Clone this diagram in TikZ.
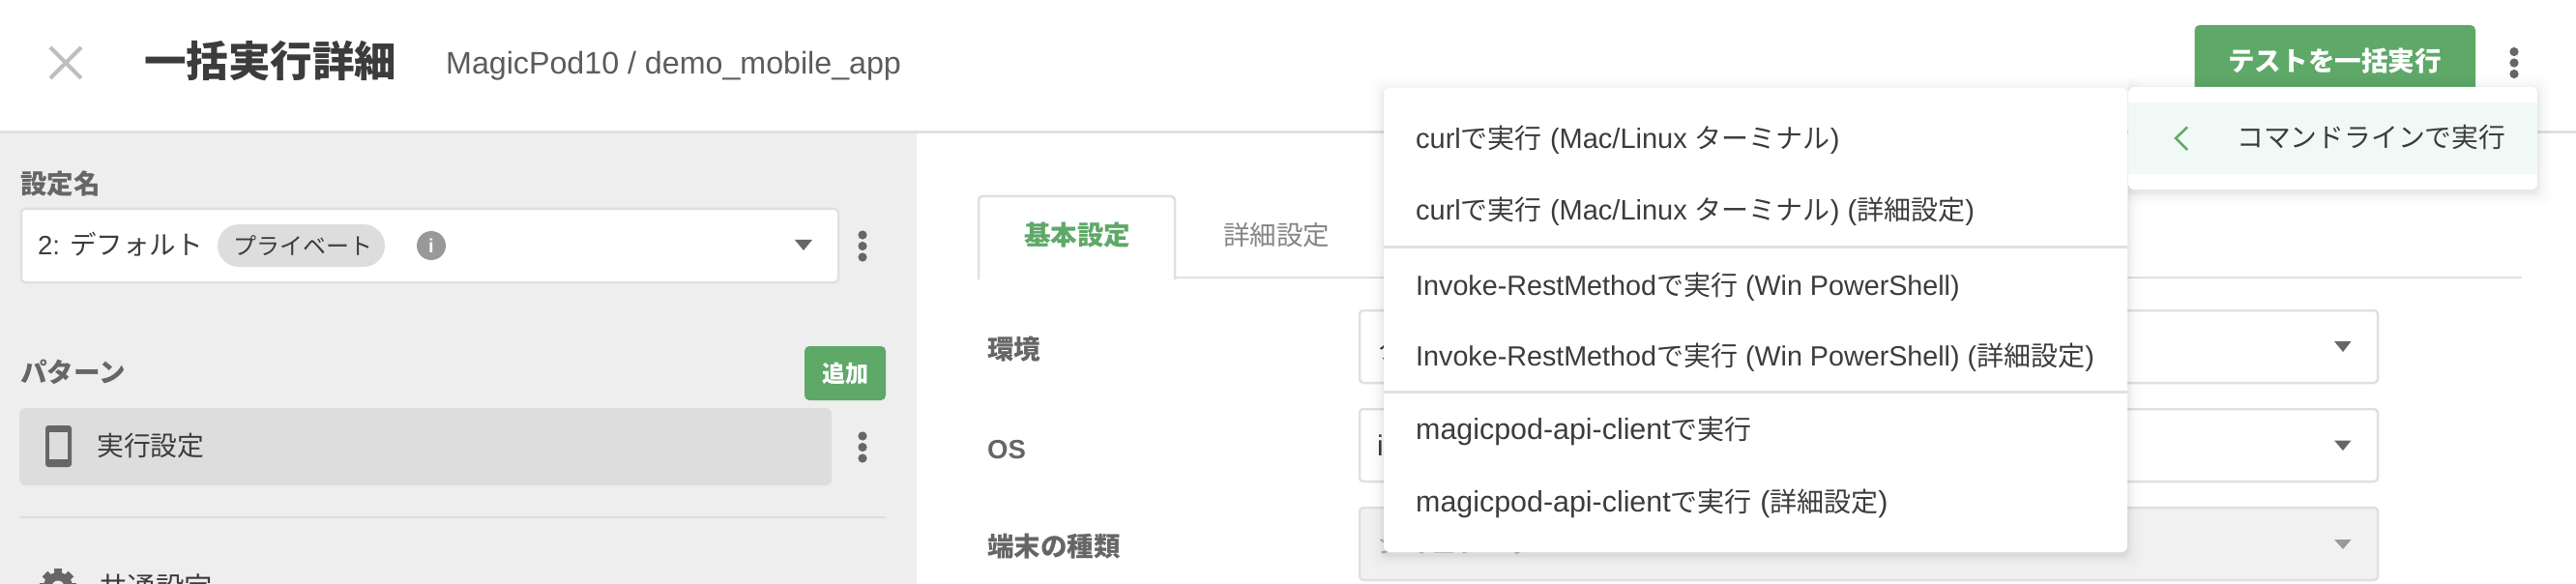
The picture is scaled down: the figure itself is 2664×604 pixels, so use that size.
\documentclass[tikz,border=0pt]{standalone}
\usepackage{fontspec}
\setmainfont{Liberation Sans}
\newfontfamily\jp{Noto Sans CJK JP}
\newcommand{\mj}[1]{{\jp\fontsize{28}{28}\selectfont #1}}
\usetikzlibrary{calc}
\definecolor{ink}{HTML}{3C3C3C}
\definecolor{mid}{HTML}{666666}
\definecolor{rule}{HTML}{E0E0E0}
\definecolor{panel}{HTML}{EEEEEE}
\definecolor{grn}{HTML}{5EA868}
\definecolor{pale}{HTML}{F0F9F5}
\definecolor{pill}{HTML}{DDDDDD}
\definecolor{dis}{HTML}{F1F1F1}
\tikzset{
 lbl/.style={anchor=base west,inner sep=0pt,text=ink,font=\fontsize{#1}{#1}\selectfont},
 lbl/.default=27.5,
 hd/.style={anchor=base west,inner sep=0pt,text=mid,font=\fontsize{27.5}{27.5}\selectfont\jp\bfseries},
 box/.style={draw=rule,line width=2.5pt,fill=white,rounded corners=4pt},
 tri/.style={fill=mid,draw=none},
 dot/.style={fill=mid,draw=none},
 sep/.style={draw=rule,line width=2.5pt},
}
\newcommand{\kebab}[3]{% x, y centre, name
 \fill[dot] (#1,#2-11.5) circle (4.6);
 \fill[dot] (#1,#2) circle (4.6);
 \fill[dot] (#1,#2+11.5) circle (4.6);
}
\newcommand{\softshadow}[4]{% x0 y0 x1 y1
 \foreach \d/\o in {14/.006,11/.009,8/.012,5/.016,3/.02,1.5/.025}{
  \fill[black,opacity=\o,rounded corners=8pt] (#1-\d,#2-\d+3) rectangle (#3+\d,#4+\d+3);
 }
}
\begin{document}
\begin{tikzpicture}[x=1pt,y=-1pt]
\useasboundingbox (0,0) rectangle (2664,604);
\clip (0,0) rectangle (2664,604);
\fill[white] (0,0) rectangle (2664,604);
% left panel + header rule
\fill[panel] (0,137) rectangle (948,604);
\draw[sep] (0,136.5) -- (2664,136.5);
% header
\draw[color=rule!85!black,line width=4pt] (52,49) -- (84,81) (84,49) -- (52,81);
\node[anchor=base west,inner sep=0pt,text=ink,font=\fontsize{43.5}{43.5}\selectfont\jp\bfseries] (title) at (149,80) {一括実行詳細};
\node[anchor=base west,inner sep=0pt,text=mid!90!black,font=\fontsize{32.2}{32.2}\selectfont] (path) at (461,77) {MagicPod10 / demo\_mobile\_app};
\fill[grn,rounded corners=5pt] (2269.5,26) rectangle (2560,100);
\node[anchor=base west,inner sep=0pt,text=white,font=\fontsize{27.6}{27.6}\selectfont\jp\bfseries] (run) at (2304,74) {テストを一括実行};
\kebab{2600}{65}{k0}
% settings name
\node[hd] (n1) at (21,201) {設定名};
\draw[box] (22,216) rectangle (867,292);
\node[lbl] (v1) at (39,263) {\fontsize{27.5}{27.5}\selectfont 2: \jp デフォルト};
\fill[pill,rounded corners=22pt] (225,232) rectangle (398,276);
\node[lbl=24,text=ink] (p1) at (241,263) {\jp プライベート};
\fill[black!40] (446,254) circle (15);
\node[anchor=center,inner sep=0pt,text=white,font=\fontsize{20}{20}\selectfont\bfseries] (i1) at (446,254) {i};
\fill[tri] (822,248) -- (840,248) -- (831,259) -- cycle;
\kebab{892}{254.5}{k1}
% pattern
\node[hd] (n2) at (21,395) {\jp パターン};
\fill[grn,rounded corners=5pt] (832,358) rectangle (916,414);
\node[anchor=base,inner sep=0pt,text=white,font=\fontsize{24}{24}\selectfont\jp\bfseries] (add) at (874,395) {追加};
\fill[pill,rounded corners=6pt] (20,422) rectangle (860,502);
\fill[mid,rounded corners=3pt] (47,440) rectangle (74,483);
\fill[pill] (51,447) rectangle (70,475);
\node[lbl,font=\fontsize{27.8}{27.8}\selectfont\jp] (n3) at (100,471) {実行設定};
\kebab{892}{462.5}{k2}
\draw[draw=pill,line width=2.5pt] (20,535) -- (916,535);
% gear
\fill[mid] (60,607) circle (15);
\foreach \a in {0,45,...,315}{\fill[mid,rotate around={\a:(60,607)}] (56,588) rectangle (64,600);}
\fill[panel] (60,607) circle (6.5);
\node[lbl,font=\fontsize{29.5}{29.5}\selectfont\jp] (n4) at (102,618) {共通設定};
% tabs
\draw[sep] (1215,287) -- (2608,287);
\draw[draw=rule,line width=2.5pt,rounded corners=4pt,fill=white] (1012,289) -- (1012,203) -- (1215,203) -- (1215,289);
\node[anchor=base west,inner sep=0pt,text=grn,font=\fontsize{27.5}{27.5}\selectfont\jp\bfseries] (t1) at (1059,254) {基本設定};
\node[anchor=base west,inner sep=0pt,text=mid!80!white,font=\fontsize{27.5}{27.5}\selectfont\jp] (t2) at (1265,254) {詳細設定};
% form
\node[hd] (f1) at (1021,371) {環境};
\node[hd,font=\fontsize{27.5}{27.5}\selectfont\bfseries] (f2) at (1021,474) {OS};
\node[hd] (f3) at (1021,575) {端末の種類};
\draw[box] (1406,321) rectangle (2459,396);
\draw[box] (1406,423) rectangle (2459,498);
\draw[draw=rule,line width=2.5pt,fill=dis,rounded corners=4pt] (1406,525) rectangle (2459,600);
\node[lbl,font=\fontsize{27.5}{27.5}\selectfont\jp] (s1) at (1424,371) {クラウド};
\node[lbl=29.8] (s2) at (1424,471) {iOS};
\node[lbl,text=black!30,font=\fontsize{27.5}{27.5}\selectfont\jp] (s3) at (1424,572) {シミュレータ};
\fill[tri] (2414,353) -- (2431.5,353) -- (2423,364) -- cycle;
\fill[tri] (2414,455.5) -- (2431.5,455.5) -- (2423,466) -- cycle;
\fill[black!40] (2414,558) -- (2431.5,558) -- (2423,568) -- cycle;
% main menu
\softshadow{1431}{91}{2200}{571}
\fill[white,rounded corners=6pt] (1431,91) rectangle (2200,571);
\foreach \nm/\yy/\sz/\tx in {
 m1/154/29/{curl\mj{で実行} (Mac/Linux \mj{ターミナル})},
 m2/228/29/{curl\mj{で実行} (Mac/Linux \mj{ターミナル}) (\mj{詳細設定})},
 m3/305/28.7/{Invoke-RestMethod\mj{で実行} (Win PowerShell)},
 m4/378/28.7/{Invoke-RestMethod\mj{で実行} (Win PowerShell) (\mj{詳細設定})},
 m5/454/30.4/{magicpod-api-client\mj{で実行}},
 m6/529/30.4/{magicpod-api-client\mj{で実行} (\mj{詳細設定})}}{
 \node[lbl=\sz] (\nm) at (1464,\yy) {\tx};
}
\draw[sep] (1431,255.5) -- (2200,255.5);
\draw[sep] (1431,405.5) -- (2200,405.5);
% submenu
\begin{scope}
\clip (2201,0) rectangle (2664,604);
\softshadow{2200}{90}{2624}{196}
\end{scope}
\fill[white,rounded corners=6pt] (2201,90) rectangle (2624,196);
\fill[pale] (2201,106) rectangle (2624,180);
\draw[grn,line width=2.5pt] (2262,131.5) -- (2250,143) -- (2262,155);
\node[lbl,font=\fontsize{27.8}{27.8}\selectfont\jp] (cmd) at (2313,152.5) {コマンドラインで実行};
\end{tikzpicture}
\end{document}
